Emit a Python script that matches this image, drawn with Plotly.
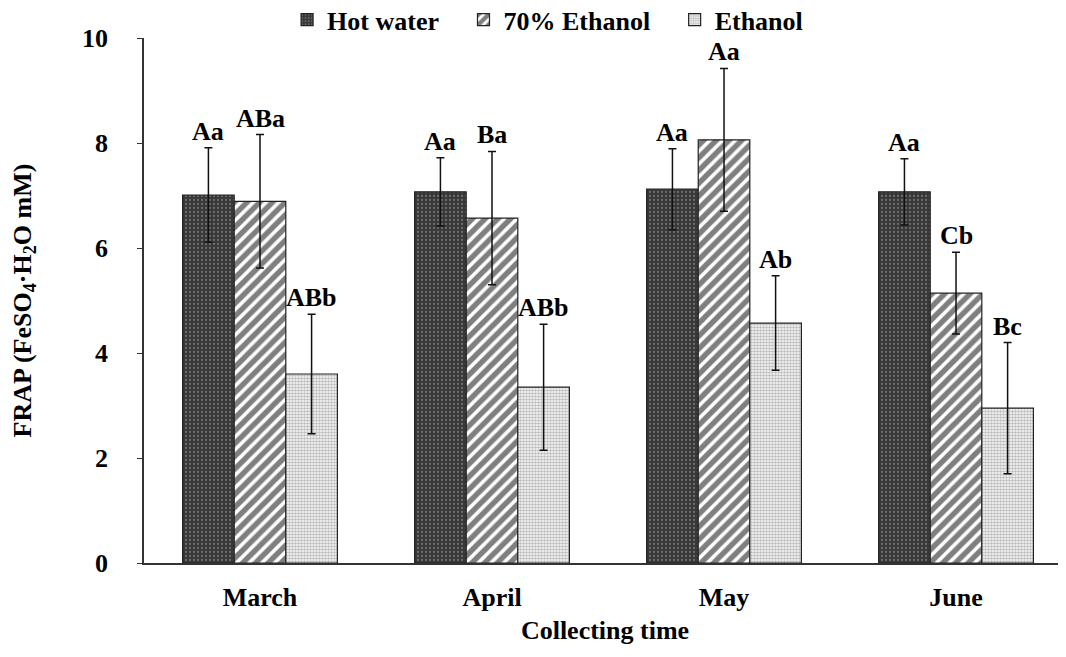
import plotly.graph_objects as go

months = ["March", "April", "May", "June"]
series_names = ["Hot water", "70% Ethanol", "Ethanol"]
hot_water = [7.01, 7.07, 7.12, 7.07]
hot_water_err = [0.90, 0.65, 0.77, 0.63]
eth70 = [6.89, 6.57, 8.06, 5.14]
eth70_err = [1.27, 1.27, 1.36, 0.78]
ethanol = [3.60, 3.35, 4.57, 2.95]
ethanol_err = [1.14, 1.20, 0.90, 1.25]
letters_hot = ["Aa", "Aa", "Aa", "Aa"]
letters_70 = ["ABa", "Ba", "Aa", "Cb"]
letters_eth = ["ABb", "ABb", "Ab", "Bc"]

FONT = "Liberation Serif"

patterns = [
    dict(shape=".", bgcolor="#383838", fgcolor="#a0a0a0", size=4, solidity=0.25),
    dict(shape="/", bgcolor="white", fgcolor="black", size=9, solidity=0.6),
    dict(shape=".", bgcolor="white", fgcolor="#777777", size=3, solidity=0.6),
]

fig = go.Figure()
data = [(hot_water, hot_water_err), (eth70, eth70_err), (ethanol, ethanol_err)]
for i, (vals, errs) in enumerate(data):
    pad = "&nbsp;&nbsp;&nbsp;" if i < 2 else ""
    fig.add_trace(go.Bar(
        x=months, y=vals, name=f"<b>{series_names[i]}</b>{pad}",
        marker=dict(color=patterns[i]["bgcolor"], pattern=patterns[i],
                    line=dict(color="#222", width=1.2)),
        error_y=dict(type="data", array=errs, visible=True, color="#111",
                     thickness=1.5, width=4),
    ))

group_w = 0.667
bw = group_w / 3
offsets = [-bw, 0, bw]
annots = []
for i, (vals, errs) in enumerate(data):
    letters = [letters_hot, letters_70, letters_eth][i]
    for j in range(4):
        annots.append(dict(
            x=j + offsets[i], y=vals[j] + errs[j], xref="x", yref="y",
            text=f"<b>{letters[j]}</b>", showarrow=False, yanchor="bottom",
            yshift=0, font=dict(family=FONT, size=26, color="black"),
        ))

fig.update_layout(
    width=1058, height=649,
    margin=dict(l=136, r=0, t=30, b=94, autoexpand=False),
    plot_bgcolor="white", paper_bgcolor="white",
    barmode="group", bargap=0.333, bargroupgap=0,
    font=dict(family=FONT, size=26, color="black"),
    legend=dict(orientation="h", x=0.51, xanchor="center", y=0.982, yanchor="middle",
                xref="container", yref="container",
                font=dict(family=FONT, size=26, color="black"),
                itemwidth=30, tracegroupgap=0),
    annotations=annots,
)
fig.update_xaxes(
    range=[-0.5, 3.474], showline=True, linecolor="#333", linewidth=1.5,
    ticks="", automargin=False, tickfont=dict(family=FONT, size=26),
    ticklabelstandoff=10,
    tickvals=list(range(4)), ticktext=[f"<b>{m}</b>" for m in months],
    title=dict(text="<b>Collecting time</b>", font=dict(family=FONT, size=26), standoff=10),
)
fig.update_yaxes(
    range=[0, 10], dtick=2, showline=True, linecolor="#333", linewidth=1.5,
    ticks="outside", ticklen=5, tickcolor="#333", showgrid=False, zeroline=False,
    automargin=False, tickfont=dict(family=FONT, size=26), ticklabelstandoff=24,
    tickvals=[0, 2, 4, 6, 8, 10], ticktext=[f"<b>{v}</b>" for v in [0, 2, 4, 6, 8, 10]],
    title=dict(text="<b>FRAP (FeSO<sub>4</sub>·H<sub>2</sub>O mM)</b>",
               font=dict(family=FONT, size=26), standoff=48),
)
fig.write_html("out.html")
